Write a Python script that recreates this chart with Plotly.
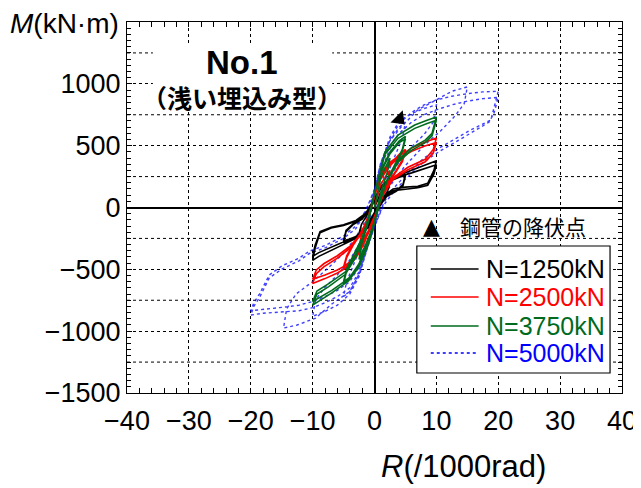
import plotly.graph_objects as go

# ---------------- data ----------------
# R in 1/1000 rad, M in kN·m ; cycles concatenated in loading order
r_1250 = [0, 1, 2.5, 2.1, 1, 0, -1, -2.5, -2.1, -1, 0,
          1, 2.5, 4, 5, 4.6, 3.5, 2, 1, 0, -1, -2.5, -4, -5, -4.6, -3.5, -2, -1, 0,
          1, 2.5, 4, 5, 4.6, 3.5, 2, 1, 0, -1, -2.5, -4, -5, -4.6, -3.5, -2, -1, 0,
          1, 2.5, 4, 6, 8, 10, 9.6, 8.6, 7, 5, 3, 1.5, 0.5, -0.5, -1.5, -3, -5, -7, -9, -10, -9.6, -8.8, -7, -5, -3, -1.5, 0,
          1, 2.5, 4, 6, 8, 10, 9.6, 8.6, 7, 5, 3, 1.5, 0.5, -0.5, -1.5, -3, -5, -7, -9, -10, -9.6, -8.8, -7, -5, -3, -1.5, 0]
m_1250 = [0, 120, 200, 130, 40, -60, -130, -210, -135, -45, 60,
          160, 225, 255, 272, 185, 135, 95, 30, -70, -160, -235, -265, -285, -195, -140, -95, -30, 65,
          150, 215, 245, 258, 175, 130, 90, 25, -75, -155, -225, -255, -270, -185, -135, -90, -25, 60,
          170, 235, 265, 300, 340, 378, 300, 195, 172, 165, 150, 95, 10, -90, -175, -250, -300, -350, -395, -428, -330, -205, -165, -145, -112, -55, 70,
          160, 220, 250, 280, 315, 345, 270, 180, 160, 150, 135, 85, 5, -85, -165, -235, -280, -325, -365, -395, -305, -195, -160, -140, -105, -50, 60]

r_2500 = [0, 1, 2.5, 2.1, 1, 0, -1, -2.5, -2.1, -1, 0,
          1, 2.5, 4, 5, 4.5, 3.5, 2, 1, 0, -1, -2.5, -4, -5, -4.5, -3.5, -2, -1, 0,
          1, 2.5, 4, 5, 4.5, 3.5, 2, 1, 0, -1, -2.5, -4, -5, -4.5, -3.5, -2, -1, 0,
          1.1, 2.5, 4, 6, 8, 10, 9.5, 8.2, 6.5, 5.4, 3, 1.5, 0.5, -0.5, -1.5, -2.5, -4, -6, -8, -10, -9.4, -8.2, -6, -4, -2.5, -1, 0,
          1.1, 2.5, 4, 6, 8, 10, 9.5, 8.2, 6.5, 5.4, 3, 1.5, 0.5, -0.5, -1.5, -2.5, -4, -6, -8, -10, -9.4, -8.2, -6, -4, -2.5, -1, 0]
m_2500 = [0, 190, 300, 210, 80, -90, -190, -320, -220, -80, 90,
          240, 350, 430, 470, 385, 300, 190, 70, -100, -210, -360, -455, -500, -405, -310, -195, -75, 100,
          230, 335, 415, 450, 370, 290, 180, 65, -100, -200, -345, -440, -480, -390, -300, -190, -70, 95,
          290, 365, 420, 480, 525, 562, 470, 390, 350, 325, 240, 120, -10, -130, -270, -370, -470, -530, -575, -615, -535, -480, -410, -330, -240, -90, 90,
          275, 345, 400, 455, 495, 525, 440, 370, 330, 305, 225, 110, -15, -125, -260, -350, -450, -505, -545, -580, -505, -455, -390, -315, -230, -85, 85]

r_3750 = [0, 1, 2.5, 2.1, 1, 0, -1, -2.5, -2.1, -1, 0,
          1, 2.5, 4, 5, 4.5, 3.5, 2, 1, 0, -1, -2.5, -4, -5, -4.5, -3.5, -2, -1, 0,
          1, 2.5, 4, 5, 4.5, 3.5, 2, 1, 0, -1, -2.5, -4, -5, -4.5, -3.5, -2, -1, 0,
          1, 1.7, 3.8, 6.5, 8.5, 10, 9.3, 8.2, 5.9, 3.8, 2, 1, 0, -1, -2.5, -4.2, -6.9, -8.5, -10, -9.3, -7.4, -4.7, -3, -1.5, 0,
          1, 1.7, 3.8, 6.5, 8.5, 10, 9.3, 8.2, 5.9, 3.8, 2, 1, 0, -1, -2.5, -4.2, -6.9, -8.5, -10, -9.3, -7.4, -4.7, -3, -1.5, 0]
m_3750 = [0, 240, 400, 290, 120, -110, -250, -420, -300, -120, 110,
          290, 450, 540, 575, 470, 370, 220, 80, -120, -270, -470, -580, -620, -510, -400, -250, -90, 120,
          280, 435, 525, 555, 455, 360, 215, 75, -120, -260, -455, -565, -600, -495, -390, -245, -85, 115,
          320, 450, 585, 667, 705, 732, 600, 545, 480, 382, 220, 70, -130, -300, -480, -593, -691, -745, -790, -700, -640, -540, -400, -200, 120,
          305, 430, 560, 640, 680, 705, 580, 525, 460, 365, 210, 65, -125, -290, -465, -575, -670, -720, -760, -675, -615, -520, -385, -190, 115]

r_5000 = [0, 1, 2.5, 2.1, 1, 0, -1, -2.5, -2.1, -1, 0,
          1, 2.5, 4, 5, 4.5, 3.5, 2, 1, 0, -1, -2.5, -4, -5, -4.5, -3.5, -2, -1, 0,
          1, 2.5, 4, 6, 8, 10, 9.5, 8, 6, 4, 2, 1, 0, -1, -2.5, -4, -6, -8, -10, -9.5, -8, -6, -4, -2, -1, 0,
          1, 2.5, 4.3, 7, 10, 12.5, 15, 14.5, 13, 10.7, 8, 5, 3, 1.5, 0, -1, -2.5, -4, -6.9, -9.5, -12.5, -14.7, -14.2, -12.7, -10, -7.5, -5, -3, -1.5, 0,
          1, 2.5, 4, 6, 8, 10, 12.5, 15, 17.5, 20, 19.3, 18.8, 15.5, 13, 10.7, 8, 5, 3, 1.5, 0,
          -1, -2.5, -4, -6, -8, -10, -12.2, -15.4, -18, -20, -19.5, -18.6, -17, -14.9, -12.2, -10.6, -7.9, -5, -3, -1.5, 0,
          1, 2.5, 4, 6, 8, 10, 12.5, 15, 17.5, 20, 19.3, 18.5, 15.5, 13, 10.7, 8, 5, 3, 1.5, 0,
          -1, -2.5, -4, -6, -8, -10, -12.2, -15.4, -18, -20, -19.5, -18.6, -17, -14.9, -12.2, -10.6, -7.9, -5, -3, -1.5, 0]
m_5000 = [0, 280, 480, 350, 170, -110, -270, -500, -370, -170, 120,
          340, 540, 650, 690, 560, 440, 260, 90, -140, -290, -540, -680, -720, -600, -470, -290, -110, 140,
          350, 570, 700, 760, 800, 830, 690, 590, 490, 370, 200, 60, -150, -300, -560, -700, -790, -840, -880, -745, -645, -545, -425, -255, -100, 150,
          360, 540, 650, 790, 870, 940, 975, 840, 740, 620, 500, 340, 210, 90, -150, -300, -540, -680, -780, -894, -950, -975, -820, -700, -600, -490, -370, -240, -110, 150,
          360, 550, 680, 770, 830, 870, 900, 920, 935, 940, 800, 707, 626, 555, 488, 400, 260, 150, 40, -160,
          -310, -520, -650, -720, -770, -810, -835, -845, -855, -870, -800, -730, -569, -496, -431, -374, -325, -250, -170, -40, 150,
          330, 500, 600, 690, 750, 790, 830, 860, 880, 890, 760, 690, 600, 530, 460, 370, 230, 120, 20, -150,
          -290, -480, -600, -670, -720, -760, -790, -810, -825, -835, -770, -700, -545, -470, -410, -355, -305, -230, -150, -30, 140]

yield_R = [4.0]
yield_M = [716]

series_names = ["N=1250kN", "N=2500kN", "N=3750kN", "N=5000kN"]
series_colors = ["#000000", "#ff0000", "#006b1e", "#0000ff"]
series_dash = ["solid", "solid", "solid", "dot"]

x_ticks = [-40, -30, -20, -10, 0, 10, 20, 30, 40]
y_ticks = [-1500, -1000, -500, 0, 500, 1000]
y_extra_grid = [-1250, -750, -250, 250, 750, 1250]

# ---------------- figure ----------------
W, H = 641, 488
OFF = 8  # page offset of the plot div
L, R_, T, B = 119, 25, 14, 103
PW, PH = W - L - R_, H - T - B


def px(x):
    """page x pixel -> paper x"""
    return (x - OFF - L) / PW


def py(y):
    """page y pixel -> paper y"""
    return (H - B - (y - OFF)) / PH


NUM_FONT = "Liberation Sans, Arial, sans-serif"
JP_FONT = "Noto Sans CJK JP, sans-serif"

fig = go.Figure()
data_r = [r_1250, r_2500, r_3750, r_5000]
data_m = [m_1250, m_2500, m_3750, m_5000]
for i in [3, 0, 1, 2]:
    fig.add_trace(go.Scatter(
        x=data_r[i], y=data_m[i], mode="lines", name=series_names[i],
        line=dict(color=series_colors[i], width=1.6 if i < 3 else 1.4, dash=series_dash[i]),
        opacity=1 if i < 3 else 0.75, showlegend=False, hoverinfo="skip"))

fig.add_trace(go.Scatter(
    x=yield_R, y=yield_M, mode="markers", showlegend=False, hoverinfo="skip",
    marker=dict(symbol="triangle-up", size=15, color="black", angle=135)))

axis_common = dict(
    showline=True, linecolor="black", linewidth=1.2, mirror="allticks",
    ticks="inside", ticklen=5, tickcolor="black", tickwidth=1,
    showgrid=True, gridcolor="black", gridwidth=1, griddash="dot",
    zeroline=True, zerolinecolor="black", zerolinewidth=1.5,
    tickfont=dict(family=NUM_FONT, size=27, color="black"),
)

fig.update_xaxes(range=[-40, 40], tickmode="array", tickvals=x_ticks,
                 minor=dict(dtick=2, ticks="inside", ticklen=5, tickcolor="black", showgrid=False),
                 ticklabelstandoff=3, ticklabeloverflow="allow", **axis_common)
fig.update_yaxes(range=[-1500, 1500], tickmode="array", tickvals=y_ticks,
                 minor=dict(dtick=50, ticks="inside", ticklen=4, tickcolor="black", showgrid=False),
                 ticklabelstandoff=0, ticklabeloverflow="allow", **axis_common)

shapes = []
for g in y_extra_grid:
    shapes.append(dict(type="line", xref="paper", x0=0, x1=1, yref="y", y0=g, y1=g,
                       line=dict(color="black", width=1, dash="dot"), layer="below"))
# white box behind title text
shapes.append(dict(type="rect", xref="paper", yref="paper",
                   x0=px(153), x1=px(333), y0=py(110), y1=py(44),
                   fillcolor="white", line=dict(width=0), layer="above"))
# legend box
shapes.append(dict(type="rect", xref="paper", yref="paper",
                   x0=px(418), x1=px(612), y0=py(373), y1=py(246),
                   fillcolor="white", line=dict(color="black", width=1.2), layer="above"))
row_y = [269, 297, 326, 353]
annotations = []
for i in range(4):
    shapes.append(dict(type="line", xref="paper", yref="paper",
                       x0=px(432), x1=px(480), y0=py(row_y[i]), y1=py(row_y[i]),
                       line=dict(color=series_colors[i], width=1.4, dash=series_dash[i]),
                       layer="above"))
    annotations.append(dict(xref="paper", yref="paper", x=px(485), y=py(row_y[i]),
                            xanchor="left", yanchor="middle", showarrow=False,
                            text=series_names[i],
                            font=dict(family=NUM_FONT, size=25, color=series_colors[i])))

annotations += [
    dict(xref="paper", yref="paper", x=px(242), y=py(62), xanchor="center", yanchor="middle",
         showarrow=False, text="<b>No.1</b>",
         font=dict(family="Liberation Sans, Arial, sans-serif", size=33, color="black")),
    dict(xref="paper", yref="paper", x=px(242), y=py(97), xanchor="center", yanchor="middle",
         showarrow=False, text="<b>（浅い埋込み型）</b>",
         font=dict(family=JP_FONT, size=25, color="black")),
    dict(xref="paper", yref="paper", x=px(433), y=py(226), xanchor="center", yanchor="middle",
         showarrow=False, text="▲", font=dict(family="DejaVu Sans, sans-serif", size=22, color="black")),
    dict(xref="paper", yref="paper", x=px(459), y=py(226), xanchor="left", yanchor="middle",
         showarrow=False, text="鋼管の降伏点", font=dict(family=JP_FONT, size=21, color="black")),
    dict(xref="paper", yref="paper", x=px(121), y=py(24), xanchor="right", yanchor="middle",
         showarrow=False, text="<i>M</i>(kN·m)", font=dict(family=NUM_FONT, size=28, color="black")),
    dict(xref="paper", yref="paper", x=px(465), y=py(466), xanchor="center", yanchor="middle",
         showarrow=False, text="<i>R</i>(/1000rad)", font=dict(family=NUM_FONT, size=31, color="black")),
]

fig.update_layout(
    width=W, height=H, margin=dict(l=L, r=R_, t=T, b=B, pad=0),
    paper_bgcolor="white", plot_bgcolor="white",
    showlegend=False, shapes=shapes, annotations=annotations,
)

fig.write_html("out.html")
